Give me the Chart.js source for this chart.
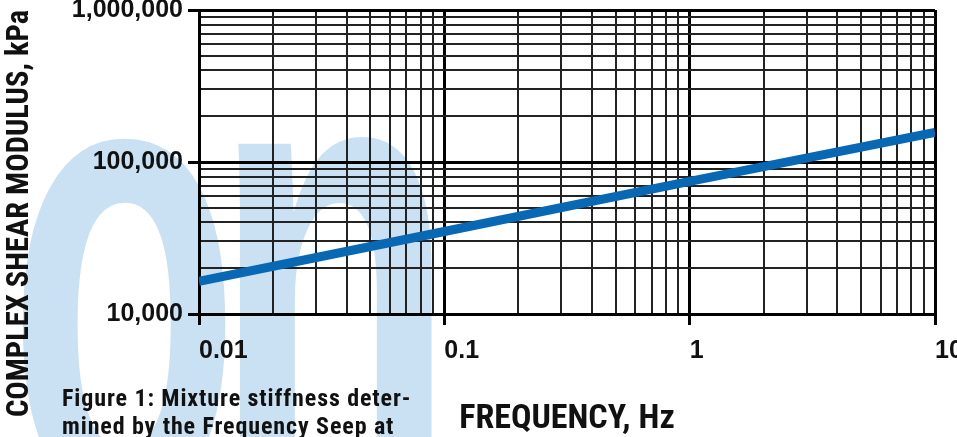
<!DOCTYPE html>
<html>
<head>
<meta charset="utf-8">
<script src="https://cdn.jsdelivr.net/npm/chart.js@4/dist/chart.umd.min.js"></script>
<style>
  body { margin: 0; background: #fff; overflow: hidden; }
  #wrap { position: relative; width: 957px; height: 437px; overflow: hidden; }
  /* logo "on" en azul claro detras del grafico */
  .marca { position: absolute; color: #c9e1f2; font-family: 'Liberation Sans', Arial, sans-serif;
           font-weight: bold; font-size: 400px; line-height: 1; transform-origin: 0 0; z-index: 0; }
  #lletraO { left: 8px; top: -70px; transform: scale(0.95, 1.7); }
  #lletraN { left: 212px; top: -59px; transform: scale(1, 1.6); }
  #grafic { position: absolute; left: 0; top: 0; z-index: 1; }
  #peu { position: absolute; left: 62px; top: 384px; z-index: 2; color: #111;
         font-family: 'Roboto Condensed', 'DejaVu Sans Condensed', sans-serif;
         font-weight: bold; font-size: 24px; letter-spacing: 0.9px; line-height: 28px; white-space: nowrap; }
</style>
</head>
<body>
<div id="wrap">
  <span class="marca" id="lletraO">o</span>
  <span class="marca" id="lletraN">n</span>
  <canvas id="grafic" width="957" height="437"></canvas>
  <div id="peu">Figure 1: Mixture stiffness deter-<br>mined by the Frequency Seep at</div>
</div>
<script>
// Datos de la curva (frecuencia en Hz, modulo en kPa)
const freqHz = [0.01, 0.1, 1, 10];
const modulKPa = [16400, 34900, 74500, 156600];

// Etiquetas de los ejes
const xLabelValues = [0.01, 0.1, 1, 10];
const xTickLabels = ['0.01', '0.1', '1', '10'];
const yLabelValues = [10000, 100000, 1000000];
const yTickLabels = ['10,000', '100,000', '1,000,000'];

// Decadas para la cuadricula (1..9 x 10^n)
const xDecades = [0.01, 0.1, 1];
const yDecades = [10000, 100000];
const passos = [1, 2, 3, 4, 5, 6, 7, 8, 9];

function ticksLog(decades, maxim) {
	let ticks = [];
	decades.forEach(d => {
		passos.forEach(p => {
			let v = +(d * p).toPrecision(6);
			ticks.push({ value: v, major: p == 1 });
		});
	});
	ticks.push({ value: maxim, major: true });
	return ticks;
}

const fontTicks = { family: "'Liberation Sans', Arial, sans-serif", weight: 'bold', size: 25 };
const fontTitolY = { family: "'Roboto Condensed', 'DejaVu Sans Condensed', sans-serif", weight: 'bold', size: 30.5 };
const fontTitolX = { family: "'Roboto Condensed', 'DejaVu Sans Condensed', sans-serif", weight: 'bold', size: 34 };

// Estilo de la cuadricula: lineas de decada mas gruesas
const grid = {
	color: (c) => (c.tick && c.tick.major) ? '#000' : '#222',
	lineWidth: (c) => (c.tick && c.tick.major) ? 3 : 2,
	tickColor: (c) => (c.tick && c.tick.major) ? '#000' : 'rgba(0,0,0,0)',
	tickWidth: 3,
	tickLength: 11,
	drawTicks: true
};

const config = {
	type: 'line',
	data: {
		datasets: [{
			data: freqHz.map((f, i) => ({ x: f, y: modulKPa[i] })),
			borderColor: '#0868b3',
			borderWidth: 9,
			pointRadius: 0,
			tension: 0,
			fill: false
		}]
	},
	options: {
		responsive: false,
		animation: false,
		layout: { padding: 0 },
		plugins: { legend: { display: false }, tooltip: { enabled: false } },
		scales: {
			x: {
				type: 'logarithmic',
				position: 'bottom',
				min: 0.01,
				max: 10,
				grid: grid,
				border: { color: '#000', width: 3 },
				ticks: {
					autoSkip: false,
					maxRotation: 0,
					align: 'start',
					padding: 11,
					color: '#111',
					font: fontTicks,
					callback: (v) => {
						let i = xLabelValues.findIndex(l => Math.abs(l - v) < l * 1e-6);
						return i >= 0 ? xTickLabels[i] : '';
					}
				},
				title: {
					display: true,
					text: 'FREQUENCY, Hz',
					color: '#111',
					font: fontTitolX,
					padding: { top: 0, bottom: -3 }
				},
				afterBuildTicks: (scale) => { scale.ticks = ticksLog(xDecades, 10); },
				afterFit: (scale) => {
					scale.height = 123;
					scale.paddingLeft = 0;
					scale.paddingRight = 22;
				}
			},
			y: {
				type: 'logarithmic',
				position: 'left',
				min: 10000,
				max: 1000000,
				grid: grid,
				border: { color: '#000', width: 3 },
				ticks: {
					autoSkip: false,
					padding: 5,
					color: '#111',
					font: fontTicks,
					callback: (v) => {
						let i = yLabelValues.indexOf(v);
						return i >= 0 ? yTickLabels[i] : '';
					}
				},
				title: {
					display: true,
					text: 'COMPLEX SHEAR MODULUS, kPa',
					align: 'end',
					color: '#111',
					font: fontTitolY,
					padding: { top: 2, bottom: 0 }
				},
				afterBuildTicks: (scale) => { scale.ticks = ticksLog(yDecades, 1000000); },
				afterFit: (scale) => {
					scale.width = 199;
					scale.paddingTop = 10;
					scale.paddingBottom = 0;
				}
			}
		}
	}
};

let myChart = new Chart(document.getElementById('grafic'), config);
</script>
</body>
</html>
